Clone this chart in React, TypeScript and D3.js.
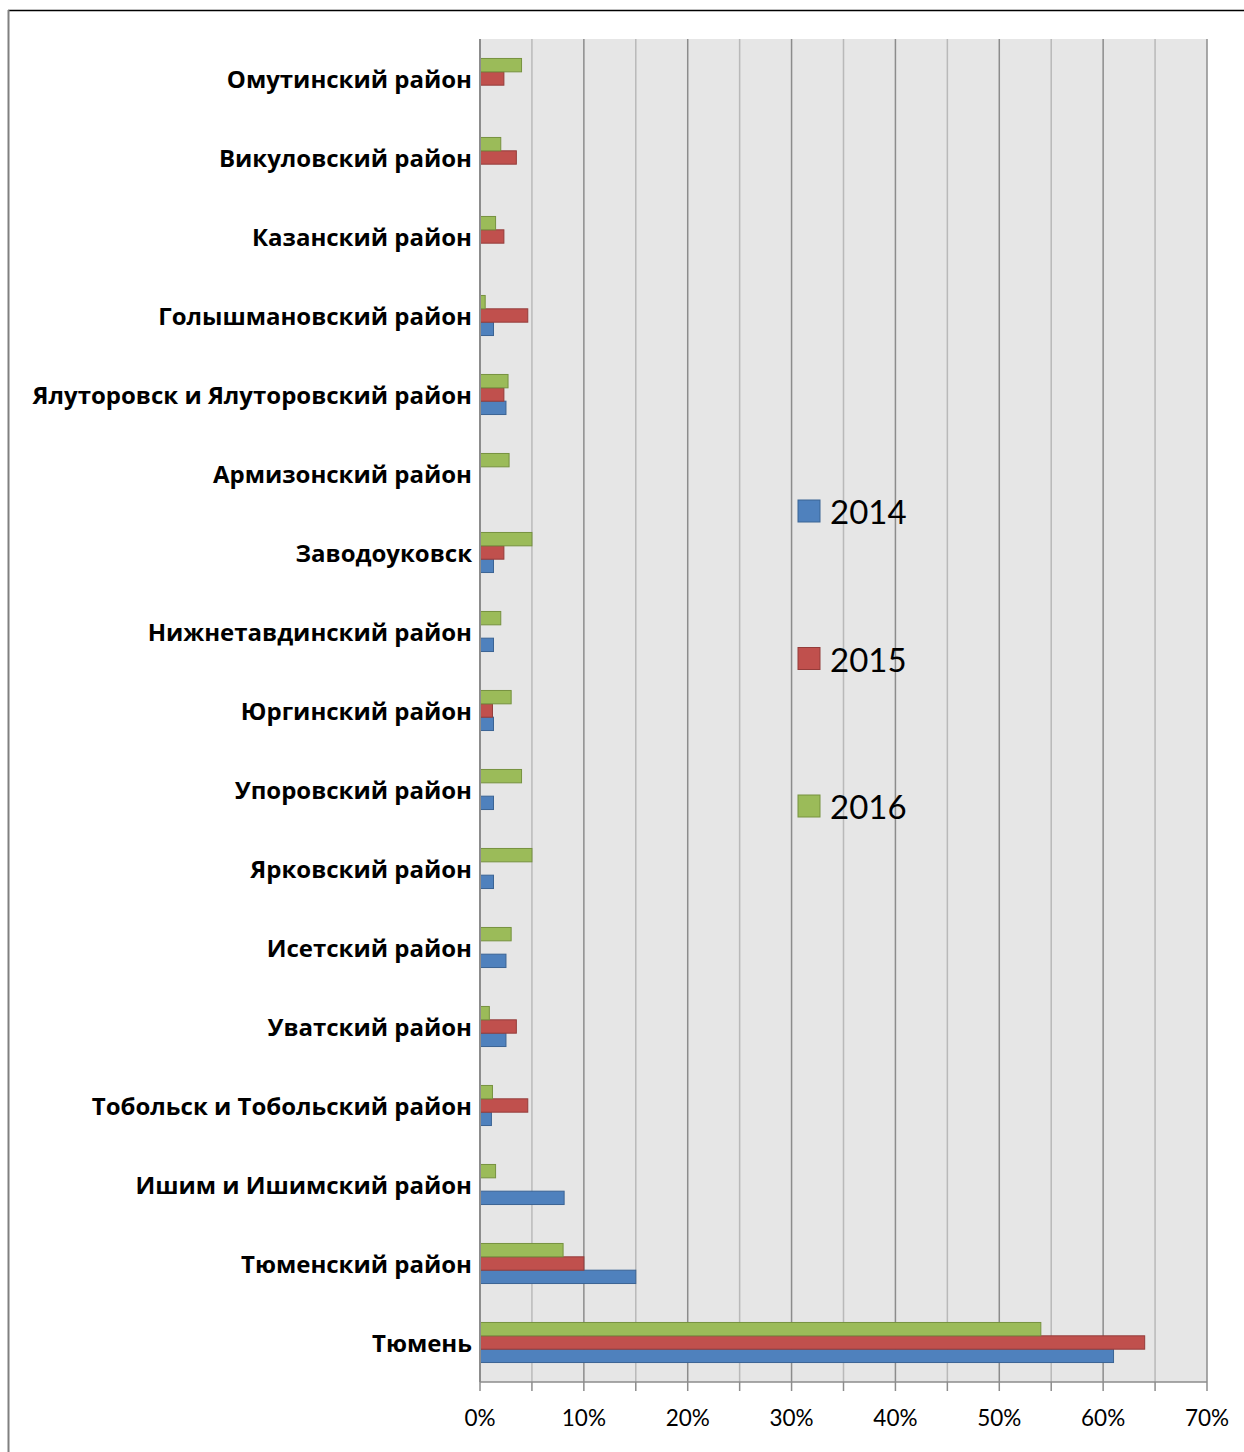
import React from "react";
import * as d3 from "d3";

const categories = [
  "Омутинский район",
  "Викуловский район",
  "Казанский район",
  "Голышмановский район",
  "Ялуторовск и Ялуторовский район",
  "Армизонский район",
  "Заводоуковск",
  "Нижнетавдинский район",
  "Юргинский район",
  "Упоровский район",
  "Ярковский район",
  "Исетский район",
  "Уватский район",
  "Тобольск и Тобольский район",
  "Ишим и Ишимский район",
  "Тюменский район",
  "Тюмень",
];

const values2014 = [0, 0, 0, 1.3, 2.5, 0, 1.3, 1.3, 1.3, 1.3, 1.3, 2.5, 2.5, 1.1, 8.1, 15, 61];
const values2015 = [2.3, 3.5, 2.3, 4.6, 2.3, 0, 2.3, 0, 1.2, 0, 0, 0, 3.5, 4.6, 0, 10, 64];
const values2016 = [4, 2, 1.5, 0.5, 2.7, 2.8, 5, 2, 3, 4, 5, 3, 0.9, 1.2, 1.5, 8, 54];

const seriesNames = ["2014", "2015", "2016"];
const fills = ["#4f81bd", "#c0504d", "#9bbb59"];
const strokes = ["#3b6494", "#943c3a", "#76923f"];

const xTicks = [0, 10, 20, 30, 40, 50, 60, 70];
const minorTicks = [5, 15, 25, 35, 45, 55, 65];

export default function App() {
  const W = 1244;
  const H = 1452;
  const left = 480;
  const right = 1207;
  const top = 39;
  const bottom = 1382;

  const x = d3.scaleLinear().domain([0, 70]).range([left, right]);
  const y = d3.scaleBand<string>().domain(categories).range([top, bottom]).padding(0);
  const bw = y.bandwidth();
  const h = bw * 0.169;

  const series = [values2014, values2015, values2016];
  const offsets = [0.5, -0.5, -1.5];

  const font = "Lato, 'Open Sans', sans-serif";
  const labelFont = "'Open Sans', Lato, sans-serif";

  return (
    <svg width={W} height={H} style={{ position: "absolute", left: 0, top: 0, display: "block" }}>
      <rect x={0} y={0} width={W} height={H} fill="#ffffff" />
      <line x1={8} x2={W} y1={10.5} y2={10.5} stroke="#000" strokeWidth={1.5} />
      <line x1={8.5} x2={8.5} y1={10} y2={H} stroke="#808080" strokeWidth={2} />

      <rect x={left} y={top} width={right - left} height={bottom - top} fill="#e6e6e6" />

      {minorTicks.map((t) => (
        <line key={"mi" + t} x1={x(t)} x2={x(t)} y1={top} y2={bottom} stroke="#b9b9b9" strokeWidth={1.5} />
      ))}
      {xTicks.map((t) => (
        <line key={"ma" + t} x1={x(t)} x2={x(t)} y1={top} y2={bottom} stroke="#8c8c8c" strokeWidth={1.5} />
      ))}

      {series.map((vals, si) =>
        categories.map((c, ci) => {
          const v = vals[ci];
          if (!v) return null;
          const cy = (y(c) as number) + bw / 2 + offsets[si] * h;
          return (
            <rect
              key={si + "-" + ci}
              x={x(0)}
              y={cy}
              width={x(v) - x(0)}
              height={h}
              fill={fills[si]}
              stroke={strokes[si]}
              strokeWidth={1}
            />
          );
        })
      )}

      <line x1={left} x2={right} y1={bottom} y2={bottom} stroke="#8c8c8c" strokeWidth={1.5} />
      <line x1={left} x2={left} y1={top} y2={bottom} stroke="#8c8c8c" strokeWidth={2} />
      {[...xTicks, ...minorTicks].map((t) => (
        <line key={"tk" + t} x1={x(t)} x2={x(t)} y1={bottom} y2={bottom + 9} stroke="#8c8c8c" strokeWidth={1.5} />
      ))}
      {xTicks.map((t) => (
        <text key={"tl" + t} x={x(t)} y={1426} textAnchor="middle" fontFamily={font} fontSize={22.5} fill="#000">
          {t + "%"}
        </text>
      ))}

      {categories.map((c) => (
        <text
          key={"cl" + c}
          x={472}
          y={(y(c) as number) + bw / 2 + 9}
          textAnchor="end"
          fontFamily={labelFont}
          fontWeight="bold"
          fontSize={24}
          fill="#000"
        >
          {c}
        </text>
      ))}

      {seriesNames.map((s, i) => {
        const ly = 500 + i * 147.5;
        return (
          <g key={"lg" + s}>
            <rect x={798} y={ly} width={22} height={22} fill={fills[i]} stroke={strokes[i]} strokeWidth={1} />
            <text x={830} y={ly + 24} fontFamily={font} fontSize={33} fill="#000">
              {s}
            </text>
          </g>
        );
      })}
    </svg>
  );
}
